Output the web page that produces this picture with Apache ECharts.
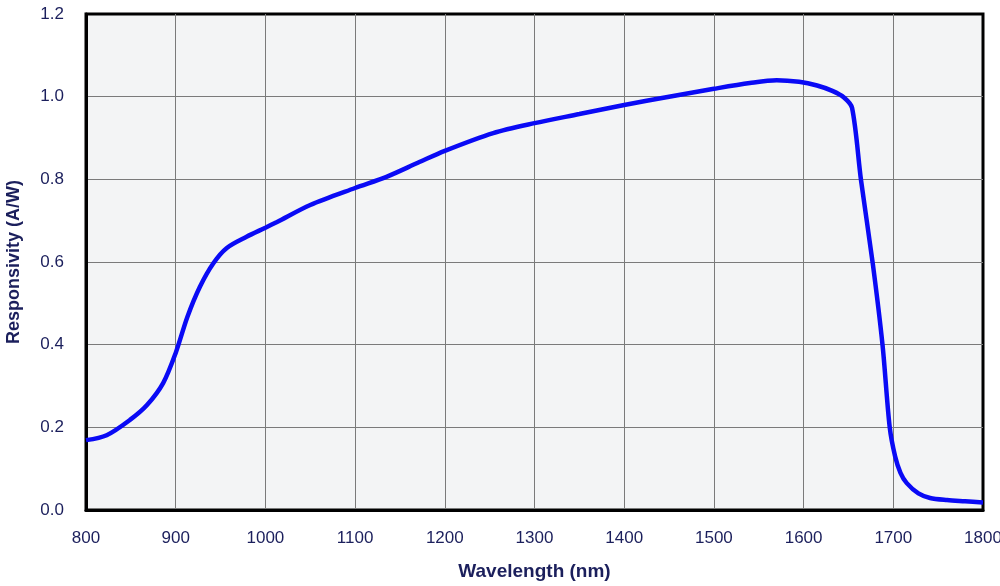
<!DOCTYPE html>
<html>
<head>
<meta charset="utf-8">
<script src="https://cdn.jsdelivr.net/npm/echarts@6/dist/echarts.min.js"></script>
<style>
  html, body { margin: 0; padding: 0; background: #fff; }
  #main { width: 1000px; height: 586px; }
</style>
</head>
<body>
<div id="main"></div>
<script>
// wavelength (nm) and responsivity (A/W)
var wavelengths = [800, 823, 849, 868, 886, 900, 913, 927, 942, 957, 979, 1000, 1013, 1050, 1100, 1135, 1170, 1200, 1254, 1300, 1350, 1400, 1450, 1500, 1540, 1570, 1595, 1615, 1632, 1645, 1654, 1664, 1677, 1688, 1696, 1702, 1708, 1715, 1728, 1741, 1760, 1780, 1800];
var responsivity = [0.169, 0.181, 0.218, 0.254, 0.307, 0.38, 0.467, 0.54, 0.597, 0.634, 0.661, 0.683, 0.697, 0.738, 0.779, 0.806, 0.84, 0.869, 0.912, 0.936, 0.958, 0.98, 1.0, 1.019, 1.033, 1.04, 1.036, 1.027, 1.014, 0.998, 0.973, 0.798, 0.598, 0.399, 0.2, 0.13, 0.09, 0.065, 0.04, 0.029, 0.024, 0.021, 0.018];
var yTicks = [0, 0.2, 0.4, 0.6, 0.8, 1.0, 1.2];

var labelColor = '#1b1f5c';

var points = [];
for (var i = 0; i < wavelengths.length; i++) {
    points.push([wavelengths[i], responsivity[i]]);
}

var myChart = echarts.init(document.getElementById('main'));

option = {
    backgroundColor: '#fff',
    animation: false,
    grid: {
        left: 86,
        right: 17,
        top: 14,
        bottom: 76,
        outerBoundsMode: 'none',
        containLabel: false,
        show: true,
        backgroundColor: '#f3f4f5',
        borderColor: '#000',
        borderWidth: 3
    },
    xAxis: {
        type: 'value',
        min: 800,
        max: 1800,
        interval: 100,
        name: 'Wavelength (nm)',
        nameLocation: 'middle',
        nameGap: 52,
        nameTextStyle: {
            color: labelColor,
            fontFamily: 'Liberation Sans',
            fontWeight: 'bold',
            fontSize: 19
        },
        axisLine: { show: true, lineStyle: { color: '#000', width: 3 } },
        axisTick: { show: false },
        axisLabel: {
            color: labelColor,
            fontFamily: 'Liberation Sans',
            fontSize: 17,
            margin: 20,
            formatter: function (v) { return String(v); }
        },
        splitLine: {
            show: true,
            showMinLine: false,
            showMaxLine: false,
            lineStyle: { color: '#7a7a7a', width: 1 }
        }
    },
    yAxis: {
        type: 'value',
        min: yTicks[0],
        max: yTicks[yTicks.length - 1],
        interval: 0.2,
        name: 'Responsivity (A/W)',
        nameLocation: 'middle',
        nameGap: 63,
        nameTextStyle: {
            color: labelColor,
            fontFamily: 'Liberation Sans',
            fontWeight: 'bold',
            fontSize: 18
        },
        axisLine: { show: true, lineStyle: { color: '#000', width: 3 } },
        axisTick: { show: false },
        axisLabel: {
            color: labelColor,
            fontFamily: 'Liberation Sans',
            fontSize: 17,
            margin: 22,
            formatter: function (v) { return v.toFixed(1); }
        },
        splitLine: {
            show: true,
            showMinLine: false,
            showMaxLine: false,
            lineStyle: { color: '#7a7a7a', width: 1 }
        }
    },
    series: [
        {
            type: 'line',
            data: points,
            smooth: 0.3,
            symbol: 'none',
            lineStyle: { color: '#0a0af5', width: 4.5 },
            z: 5
        }
    ]
};

myChart.setOption(option);
</script>
</body>
</html>
